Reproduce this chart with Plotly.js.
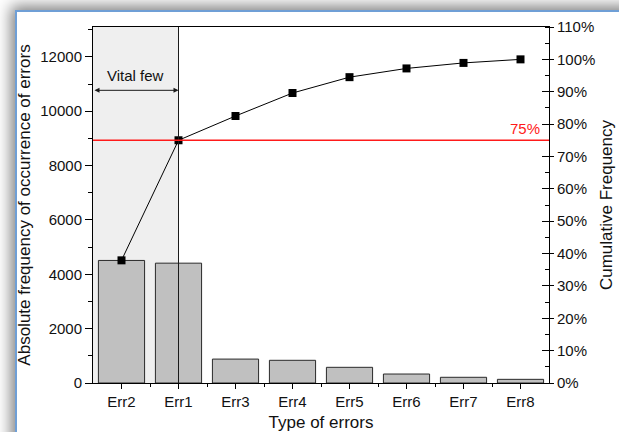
<!DOCTYPE html>
<html>
<head>
<meta charset="utf-8">
<script src="https://cdn.plot.ly/plotly-3.0.1.min.js"></script>
<style>
  html, body { margin: 0; padding: 0; width: 619px; height: 432px; overflow: hidden; background: #ffffff; }
  #frame { position: absolute; left: 15px; top: 10px; width: 700px; height: 500px;
           background: #ffffff; border-left: 2px solid #6f9fd6; border-top: 2px solid #6f9fd6;
           box-shadow: 0 0 14px 4px rgba(0,0,0,0.5); }
  #chart { position: absolute; left: 0; top: 0; width: 619px; height: 432px; }
</style>
</head>
<body>
<div id="frame"></div>
<div id="chart"></div>
<script>
// Data
const categories = ['Err2', 'Err1', 'Err3', 'Err4', 'Err5', 'Err6', 'Err7', 'Err8'];
const counts = [4510, 4410, 880, 835, 577, 330, 210, 135];
const cumulativePct = [37.9, 75.0, 82.5, 89.6, 94.5, 97.2, 98.9, 100.0];
const thresholdPct = 75;
const leftTicks = [0, 2000, 4000, 6000, 8000, 10000, 12000];
const leftTickText = ['0', '2000', '4000', '6000', '8000', '10000', '12000'];

const FONT = 'Liberation Sans, Arial, Helvetica, sans-serif';
const TXT = '#111111';

const traces = [
  {
    type: 'bar', x: categories, y: counts, xaxis: 'x', yaxis: 'y',
    marker: { color: '#c0c0c0', line: { color: '#2a2a2a', width: 1 } },
    hoverinfo: 'x+y'
  },
  {
    type: 'scatter', mode: 'lines+markers', x: categories, y: cumulativePct,
    xaxis: 'x', yaxis: 'y2',
    line: { color: '#000000', width: 1 },
    marker: { symbol: 'square', size: 8, color: '#000000' }
  }
];

const layout = {
  width: 619, height: 432,
  margin: { l: 93, r: 70, t: 27, b: 49, pad: 0 },
  paper_bgcolor: 'rgba(0,0,0,0)',
  plot_bgcolor: 'rgba(0,0,0,0)',
  showlegend: false,
  bargap: 0.19,
  font: { family: FONT, size: 15, color: TXT },
  xaxis: {
    type: 'category', range: [-0.5, 7.5], automargin: false,
    showline: true, linecolor: '#000', linewidth: 1, mirror: true,
    ticks: 'outside', ticklen: 5, tickcolor: '#000', tickwidth: 1,
    showgrid: false, zeroline: false,
    tickfont: { family: FONT, size: 15, color: TXT },
    title: { text: 'Type of errors', font: { family: FONT, size: 17, color: TXT }, standoff: 14 }
  },
  xaxis2: {
    overlaying: 'x', anchor: 'y', range: [-0.5, 7.5], type: 'linear',
    tickvals: [0.5, 1.5, 2.5, 3.5, 4.5, 5.5, 6.5], showticklabels: false,
    ticks: 'outside', ticklen: 3, tickcolor: '#000', showgrid: false, zeroline: false, showline: false
  },
  yaxis: {
    range: [0, 13100], automargin: false,
    tickvals: leftTicks, ticktext: leftTickText,
    showline: true, linecolor: '#000', linewidth: 1,
    ticks: 'outside', ticklen: 7, tickcolor: '#000',
    minor: { dtick: 1000, tick0: 0, ticks: 'outside', ticklen: 4, tickcolor: '#000', showgrid: false },
    showgrid: false, zeroline: false,
    tickfont: { family: FONT, size: 15, color: TXT },
    title: { text: 'Absolute frequency of occurrence of errors', font: { family: FONT, size: 17, color: TXT }, standoff: 5 }
  },
  yaxis2: {
    overlaying: 'y', side: 'right', anchor: 'x', range: [0, 110], automargin: false,
    dtick: 10, tick0: 0, ticksuffix: '%',
    showline: true, linecolor: '#000', linewidth: 1,
    ticks: 'outside', ticklen: 4, tickcolor: '#000',
    minor: { dtick: 5, tick0: 0, ticks: 'inside', ticklen: 4, tickcolor: '#000', showgrid: false },
    showgrid: false, zeroline: false,
    tickfont: { family: FONT, size: 15, color: TXT },
    title: { text: 'Cumulative Frequency', font: { family: FONT, size: 17, color: TXT }, standoff: 5 }
  },
  yaxis3: {
    overlaying: 'y', side: 'right', anchor: 'x', range: [0, 110],
    dtick: 10, tick0: 0, showticklabels: false,
    ticks: 'inside', ticklen: 7, tickcolor: '#000',
    showline: false, showgrid: false, zeroline: false
  },
  shapes: [
    { type: 'rect', xref: 'x', yref: 'paper', x0: -0.5, x1: 1, y0: 0, y1: 1,
      fillcolor: '#efefef', line: { width: 0 }, layer: 'below' },
    { type: 'line', xref: 'x', yref: 'paper', x0: 1, x1: 1, y0: 0, y1: 1,
      line: { color: '#1a1a1a', width: 1 }, layer: 'above' },
    { type: 'line', xref: 'paper', yref: 'y2', x0: 0, x1: 1, y0: thresholdPct, y1: thresholdPct,
      line: { color: '#ff1a1a', width: 1.5 }, layer: 'above' }
  ],
  annotations: [
    { xref: 'x', yref: 'y', x: 1, y: 10770, axref: 'x', ayref: 'y', ax: -0.5, ay: 10770,
      text: '', showarrow: true, arrowhead: 2, arrowside: 'end+start', arrowsize: 1,
      arrowwidth: 1, arrowcolor: '#1a1a1a', standoff: 0, startstandoff: 0 },
    { xref: 'x', yref: 'y', x: 0.25, y: 11320, text: 'Vital few', showarrow: false,
      font: { family: FONT, size: 15, color: TXT } },
    { xref: 'paper', yref: 'y2', x: 1, y: thresholdPct, text: thresholdPct + '%', showarrow: false,
      xanchor: 'right', yanchor: 'bottom', xshift: -7, yshift: 1,
      font: { family: FONT, size: 15, color: '#ff1a1a' } }
  ]
};

// invisible helper trace that activates the overlay tick axes
traces.push({ type: 'scatter', x: [0], y: [0], xaxis: 'x2', yaxis: 'y3', mode: 'markers',
  marker: { opacity: 0 }, hoverinfo: 'skip' });

Plotly.newPlot('chart', traces, layout, { displayModeBar: false, staticPlot: true });
</script>
</body>
</html>
